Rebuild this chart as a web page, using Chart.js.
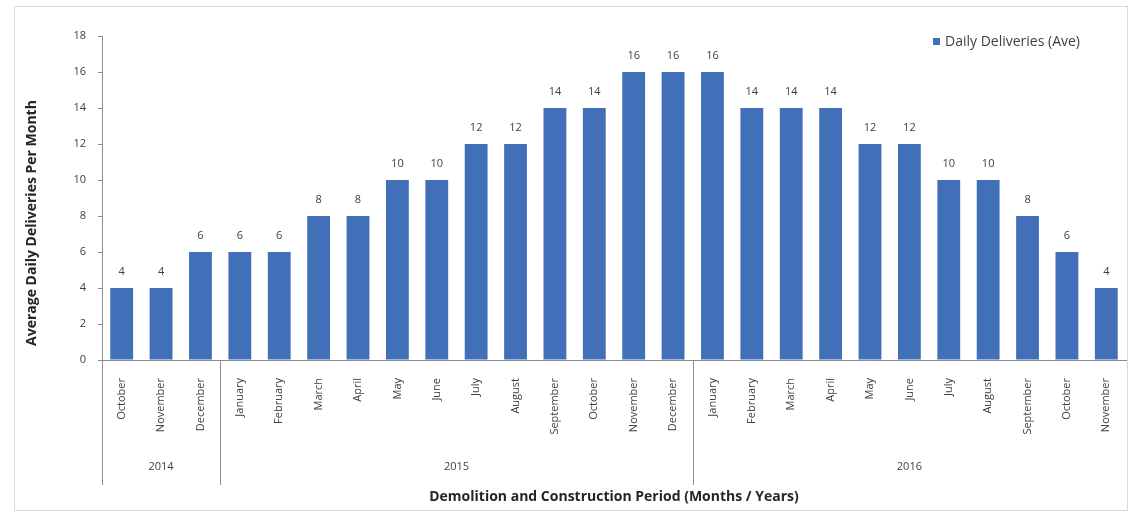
<!DOCTYPE html>
<html>
<head>
<meta charset="utf-8">
<script src="https://cdn.jsdelivr.net/npm/chart.js@4.4.1/dist/chart.umd.min.js"></script>
<style>
  html, body { margin: 0; padding: 0; background: #fff; }
  #wrap { width: 1130px; height: 521px; position: relative; }
</style>
</head>
<body>
<div id="wrap"><canvas id="chart"></canvas></div>
<script>
// month labels, one per bar
const months = ['October', 'November', 'December',
  'January', 'February', 'March', 'April', 'May', 'June', 'July', 'August', 'September', 'October', 'November', 'December',
  'January', 'February', 'March', 'April', 'May', 'June', 'July', 'August', 'September', 'October', 'November'];
const deliveries = [4, 4, 6, 6, 6, 8, 8, 10, 10, 12, 12, 14, 14, 16, 16, 16, 14, 14, 14, 12, 12, 10, 10, 8, 6, 4];
const years = ['2014', '2015', '2016'];
const monthsPerYear = [3, 12, 11];
const yTicks = [0, 2, 4, 6, 8, 10, 12, 14, 16, 18];
const yTitle = 'Average Daily Deliveries Per Month';

const barColor = '#4170b9';
const axisColor = '#8c8c8c';
const textColor = '#404040';
const font = "'Open Sans', 'Liberation Sans', sans-serif";

// frame, value labels, year groups, y title and legend
const extras = {
  id: 'extras',
  beforeDraw(chart) {
    const ctx = chart.ctx;
    ctx.save();
    ctx.fillStyle = '#fff';
    ctx.fillRect(0, 0, chart.width, chart.height);
    ctx.strokeStyle = '#d9d9d9';
    ctx.lineWidth = 1;
    ctx.strokeRect(14.5, 6.5, 1113, 504);
    ctx.restore();
  },
  afterDatasetsDraw(chart) {
    const ctx = chart.ctx;
    const meta = chart.getDatasetMeta(0);
    ctx.save();
    ctx.font = '11px ' + font;
    ctx.fillStyle = textColor;
    ctx.textAlign = 'center';
    ctx.textBaseline = 'middle';
    meta.data.forEach((bar, i) => {
      ctx.fillText(String(deliveries[i]), bar.x, bar.y - 16);
    });
    ctx.restore();
  },
  afterDraw(chart) {
    const ctx = chart.ctx;
    const x = chart.scales.x;
    const area = chart.chartArea;
    const step = (area.right - area.left) / months.length;
    ctx.save();
    ctx.strokeStyle = axisColor;
    ctx.lineWidth = 1;
    ctx.font = '11px ' + font;
    ctx.fillStyle = textColor;
    ctx.textAlign = 'center';
    ctx.textBaseline = 'middle';
    let start = 0;
    years.forEach((yr, i) => {
      const x0 = x.getPixelForValue(start) - step / 2;
      const x1 = x.getPixelForValue(start + monthsPerYear[i] - 1) + step / 2;
      const lx = Math.round(x0) + 0.5;
      ctx.beginPath();
      ctx.moveTo(lx, area.bottom);
      ctx.lineTo(lx, 485);
      ctx.stroke();
      ctx.fillText(yr, (x0 + x1) / 2, 467);
      start += monthsPerYear[i];
    });

    // y title, sits a bit below the middle of the axis like the original
    ctx.save();
    ctx.translate(32, 223);
    ctx.rotate(-Math.PI / 2);
    ctx.font = 'bold 14px ' + font;
    ctx.fillStyle = '#262626';
    ctx.fillText(yTitle, 0, 0);
    ctx.restore();

    // legend
    const label = chart.data.datasets[0].label;
    ctx.fillStyle = barColor;
    ctx.fillRect(933, 38, 7, 7);
    ctx.fillStyle = textColor;
    ctx.textAlign = 'left';
    ctx.font = '14px ' + font;
    ctx.fillText(label, 945, 42);
    ctx.restore();
  }
};

new Chart(document.getElementById('chart'), {
  type: 'bar',
  data: {
    labels: months,
    datasets: [{
      label: 'Daily Deliveries (Ave)',
      data: deliveries,
      backgroundColor: barColor,
      borderWidth: 0,
      categoryPercentage: 1,
      barPercentage: 0.58
    }]
  },
  options: {
    responsive: true,
    maintainAspectRatio: false,
    animation: false,
    layout: { padding: { left: 20, right: 4, top: 36, bottom: 10 } },
    plugins: {
      legend: { display: false },
      tooltip: { enabled: false }
    },
    scales: {
      x: {
        grid: { display: false },
        border: { display: true, color: axisColor },
        ticks: {
          autoSkip: false,
          maxRotation: 90,
          minRotation: 90,
          padding: 10,
          color: textColor,
          font: { family: font, size: 11 }
        },
        title: {
          display: true,
          text: 'Demolition and Construction Period (Months / Years)',
          color: '#262626',
          font: { family: font, size: 14, weight: 'bold' },
          padding: { top: 4, bottom: 6 }
        },
        afterFit(scale) { scale.height = 151; }
      },
      y: {
        min: 0,
        max: 18,
        afterBuildTicks(scale) { scale.ticks = yTicks.map(v => ({ value: v })); },
        grid: { drawOnChartArea: false, drawTicks: true, tickLength: 4, color: axisColor },
        border: { display: true, color: axisColor },
        ticks: {
          padding: 12,
          color: textColor,
          font: { family: font, size: 11 }
        },
        title: { display: false },
        afterFit(scale) { scale.width = 82; }
      }
    }
  },
  plugins: [extras]
});
</script>
</body>
</html>
